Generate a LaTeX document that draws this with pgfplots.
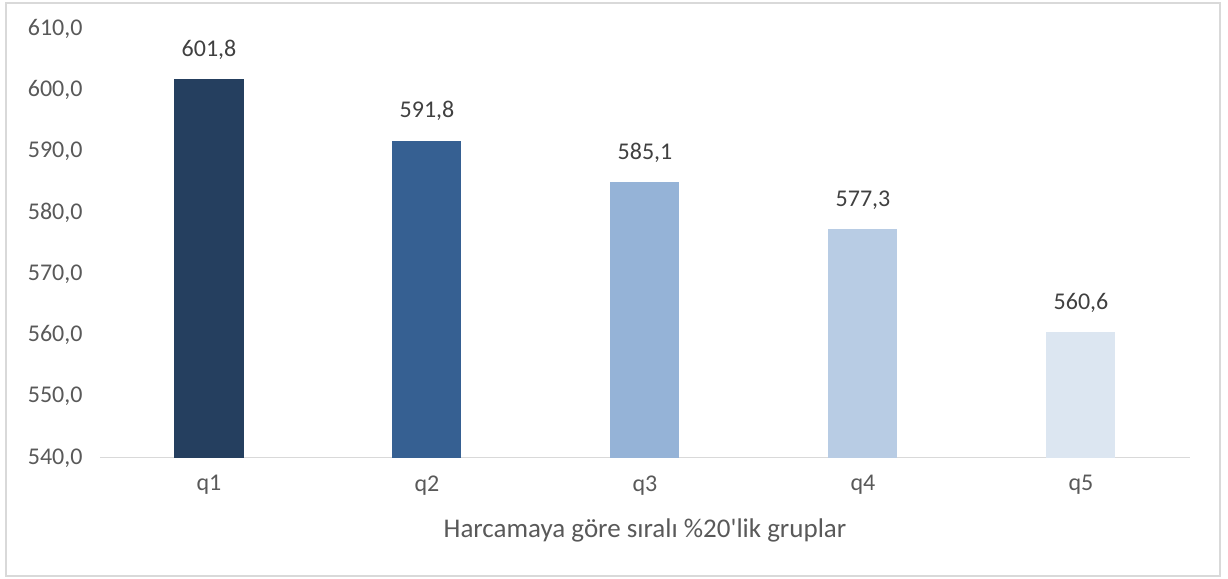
\documentclass[border=0pt]{standalone}
\usepackage{pgfplots}
\pgfplotsset{compat=1.18}
\usepackage{fontspec}
\setmainfont{Carlito}
\definecolor{c1}{HTML}{253F5F}
\definecolor{c2}{HTML}{366092}
\definecolor{c3}{HTML}{95B3D7}
\definecolor{c4}{HTML}{B8CCE4}
\definecolor{c5}{HTML}{DCE6F1}
\definecolor{txt}{HTML}{595959}
\definecolor{lbl}{HTML}{404040}
\definecolor{frame}{HTML}{D9D9D9}
\begin{document}
\begin{tikzpicture}[x=1bp,y=1bp]
\path (0,0) rectangle (1228,579);
\draw[frame,line width=1.5bp] (6,3) rectangle (1220,576);
\begin{axis}[
at={(100bp,121bp)},anchor=south west,
scale only axis,width=1090bp,height=429bp,
xmin=-0.5,xmax=4.5,ymin=540,ymax=610,
ytick={540,550,...,610},
xtick={0,1,2,3,4},xticklabels={q1,q2,q3,q4,q5},
axis line style={draw=none},
major tick length=0pt,
ybar,bar width=69bp,bar shift=0pt,
font=\fontsize{24bp}{28bp}\selectfont,
tick label style={text=txt},
/pgf/number format/.cd,fixed,fixed zerofill,precision=1,use comma,assume math mode=true,
/pgfplots/.cd,
yticklabel style={xshift=-14bp},
xticklabel style={yshift=-14bp},
xlabel={Harcamaya göre sıralı \%20\textquotesingle lik gruplar},
xlabel style={text=txt,yshift=-17bp,font=\fontsize{27bp}{31bp}\selectfont},
nodes near coords,
nodes near coords style={text=lbl,yshift=16bp,/pgf/number format/.cd,fixed,fixed zerofill,precision=1,use comma,assume math mode=true},
]
\draw[frame,line width=1.2bp] (axis cs:-0.5,540) -- (axis cs:4.5,540);
\addplot[fill=c1,draw=none] coordinates {(0,601.8)};
\addplot[fill=c2,draw=none] coordinates {(1,591.8)};
\addplot[fill=c3,draw=none] coordinates {(2,585.1)};
\addplot[fill=c4,draw=none] coordinates {(3,577.3)};
\addplot[fill=c5,draw=none] coordinates {(4,560.6)};
\end{axis}
\end{tikzpicture}
\end{document}
